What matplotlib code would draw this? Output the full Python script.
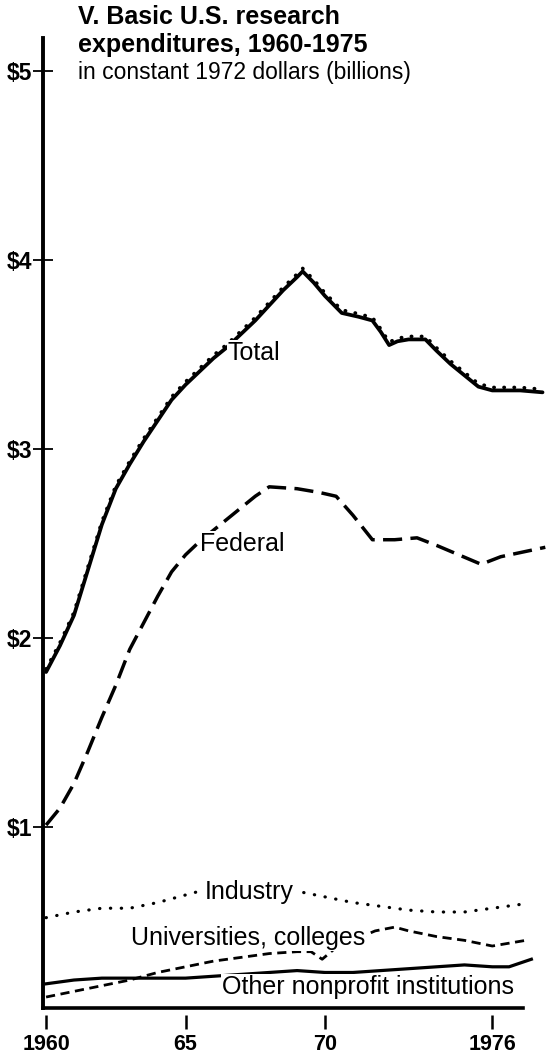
import numpy as np
import matplotlib
matplotlib.use("Agg")
import matplotlib.pyplot as plt
import matplotlib.transforms as mtransforms

plt.rcParams['font.family'] = ['Liberation Sans', 'DejaVu Sans']

# values (billions of constant 1972 dollars)
total_years = [1960, 1960.5, 1961, 1961.5, 1962, 1962.5, 1963, 1963.5, 1964, 1964.5,
               1965, 1965.5, 1966, 1966.5, 1967, 1967.5, 1968, 1968.5, 1969, 1969.2,
               1969.6, 1970, 1970.6, 1971.2, 1971.7, 1972, 1972.3, 1972.6, 1973, 1973.6,
               1974, 1974.5, 1975, 1975.5, 1976, 1976.5, 1977, 1977.8]
total_vals = [1.82, 1.96, 2.12, 2.36, 2.60, 2.79, 2.92, 3.04, 3.15, 3.26,
              3.34, 3.41, 3.48, 3.54, 3.61, 3.68, 3.76, 3.84, 3.91, 3.94,
              3.88, 3.81, 3.72, 3.70, 3.68, 3.62, 3.55, 3.57, 3.58, 3.58,
              3.52, 3.45, 3.39, 3.33, 3.31, 3.31, 3.31, 3.30]

fed_years = [1960, 1960.5, 1961, 1961.5, 1962, 1962.5, 1963, 1963.5, 1964, 1964.5,
             1965, 1965.5, 1966, 1966.5, 1967, 1967.5, 1968, 1969, 1969.8, 1970.4,
             1971, 1971.7, 1972.5, 1973.3, 1974, 1975.6, 1976.3, 1977.9]
fed_vals = [1.01, 1.10, 1.23, 1.40, 1.58, 1.75, 1.94, 2.08, 2.22, 2.35,
            2.44, 2.51, 2.57, 2.63, 2.69, 2.75, 2.80, 2.79, 2.77, 2.75,
            2.65, 2.52, 2.52, 2.53, 2.49, 2.39, 2.43, 2.48]

ind_years = [1960, 1961, 1962, 1963, 1964, 1965, 1965.5, 1969, 1970, 1971,
             1972, 1973, 1974, 1975, 1976, 1977]
ind_vals = [0.52, 0.55, 0.57, 0.57, 0.60, 0.64, 0.66, 0.66, 0.63, 0.60,
            0.58, 0.56, 0.55, 0.55, 0.57, 0.59]

uni_years = [1960, 1961, 1962, 1963, 1964, 1965, 1966, 1967, 1968, 1969,
             1969.5, 1969.9, 1970.3, 1971, 1971.8, 1972.5, 1973, 1974, 1975, 1976, 1977.2]
uni_vals = [0.10, 0.13, 0.16, 0.19, 0.23, 0.26, 0.29, 0.31, 0.33, 0.34,
            0.34, 0.30, 0.35, 0.40, 0.45, 0.47, 0.45, 0.42, 0.40, 0.37, 0.40]

other_years = [1960, 1961, 1962, 1963, 1964, 1965, 1966, 1967, 1968, 1969,
               1970, 1971, 1972, 1973, 1974, 1975, 1976, 1976.6, 1977.4]
other_vals = [0.17, 0.19, 0.20, 0.20, 0.20, 0.20, 0.21, 0.22, 0.23, 0.24,
              0.23, 0.23, 0.24, 0.25, 0.26, 0.27, 0.26, 0.26, 0.30]

xticks = [1960, 1965, 1970, 1976]
xticklabels = ['1960', '65', '70', '1976']
yticks = [1, 2, 3, 4, 5]
yticklabels = ['$1', '$2', '$3', '$4', '$5']

W, H = 551, 1061
fig = plt.figure(figsize=(W / 100, H / 100), dpi=100)
ax = fig.add_axes([43 / W, 1 - 1008 / H, (523 - 43) / W, (1008 - 38) / H])
ax.set_xlim(1959.89, 1977.1)
ax.set_ylim(0.042, 5.175)

# total: solid line with a row of dots riding on top of it
ax.plot(total_years, total_vals, color='black', lw=2.7, clip_on=False,
        solid_capstyle='round', solid_joinstyle='round')
up = mtransforms.offset_copy(ax.transData, fig=fig, x=0, y=3, units='dots')
ax.plot(total_years, total_vals, color='black', lw=2.6, ls=(0, (0.1, 2.7)),
        dash_capstyle='round', transform=up, clip_on=False)

ax.plot(fed_years, fed_vals, color='black', lw=2.5, ls=(0, (5.5, 2.4)), clip_on=False)
ax.plot(ind_years, ind_vals, color='black', lw=2.3, ls=(0, (0.1, 3.3)),
        dash_capstyle='round', clip_on=False)
ax.plot(uni_years, uni_vals, color='black', lw=2.0, ls=(0, (3.3, 2.0)), clip_on=False)
ax.plot(other_years, other_vals, color='black', lw=2.3, clip_on=False)

lab = dict(fontsize=18, va='center', ha='left', zorder=5,
           bbox=dict(facecolor='white', edgecolor='none', pad=0.5))
ax.text(1966.52, 3.51, 'Total', **lab)
ax.text(1965.52, 2.50, 'Federal', **lab)
ax.text(1965.7, 0.656, 'Industry', **lab)
ax.text(1963.05, 0.413, 'Universities, colleges', **lab)
ax.text(1966.31, 0.153, 'Other nonprofit institutions', **lab)

# axes styling
for s in ['top', 'right']:
    ax.spines[s].set_visible(False)
ax.spines['left'].set_linewidth(2.8)
ax.spines['bottom'].set_position(('outward', 5))
ax.spines['bottom'].set_visible(False)
ax.axhline(0.042, color='black', lw=2.6, clip_on=False)

ax.set_yticks(yticks)
ax.set_yticklabels(yticklabels)
ax.tick_params(axis='y', direction='inout', length=14, width=1.3, pad=0.5,
               labelsize=16.5)
ax.set_xticks(xticks)
ax.set_xticklabels(xticklabels)
ax.tick_params(axis='x', direction='out', length=10, width=1.8, pad=4,
               labelsize=15.5)
for t in ax.get_xticklabels() + ax.get_yticklabels():
    t.set_fontweight('bold')

fig.text(78 / W, 1 - 17 / H, 'V. Basic U.S. research', fontsize=18,
         fontweight='bold', va='center', ha='left')
fig.text(78 / W, 1 - 45 / H, 'expenditures, 1960-1975', fontsize=18,
         fontweight='bold', va='center', ha='left')
fig.text(78 / W, 1 - 72 / H, 'in constant 1972 dollars (billions)', fontsize=16.5,
         va='center', ha='left')

fig.savefig('out.png', dpi=100)
